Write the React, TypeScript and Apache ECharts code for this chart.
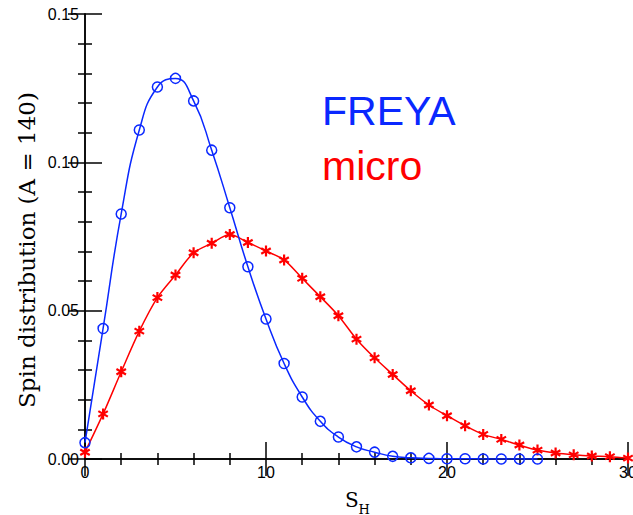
import React, { useEffect, useRef } from "react";
import * as echarts from "echarts";

const freyaS = [0, 1, 2, 3, 4, 5, 6, 7, 8, 9, 10, 11, 12, 13, 14, 15, 16, 17, 18, 19, 20, 21, 22, 23, 24, 25];
const freyaValues = [
  0.0055, 0.044, 0.0826, 0.1109, 0.1254, 0.1283, 0.1207, 0.1041, 0.0847, 0.0648,
  0.0472, 0.0322, 0.0209, 0.0127, 0.0074, 0.0041, 0.0023, 0.0009, 0.0004, 0.0002,
  0.0001, 0.0001, 0.0, 0.0, 0.0, 0.0,
];
const microS = [0, 1, 2, 3, 4, 5, 6, 7, 8, 9, 10, 11, 12, 13, 14, 15, 16, 17, 18, 19, 20, 21, 22, 23, 24, 25, 26, 27, 28, 29, 30];
const microValues = [
  0.0023, 0.0152, 0.0294, 0.0431, 0.0544, 0.062, 0.0695, 0.0727, 0.0757, 0.073,
  0.0701, 0.0671, 0.0609, 0.0547, 0.0483, 0.0404, 0.0341, 0.0285, 0.023, 0.0182,
  0.0146, 0.0112, 0.0083, 0.0066, 0.0047, 0.003, 0.002, 0.0014, 0.001, 0.0008, 0.0003,
];
const xTicks = { min: 0, max: 30, interval: 10 };
const yTicks = { min: 0, max: 0.15, interval: 0.05 };

const BLUE = "#0a28ff";
const RED = "#ff0000";

function asteriskPath(): string {
  const w = 0.2;
  const parts: string[] = [];
  [90, 30, -30].forEach((deg) => {
    const a = (deg * Math.PI) / 180;
    const ux = Math.cos(a), uy = Math.sin(a);
    const px = -uy, py = ux;
    const pts = [
      [ux + px * w, uy + py * w],
      [ux - px * w, uy - py * w],
      [-ux - px * w, -uy - py * w],
      [-ux + px * w, -uy + py * w],
    ];
    parts.push(
      "M" + pts.map((p) => (p[0] * 10 + 10).toFixed(3) + "," + (p[1] * 10 + 10).toFixed(3)).join("L") + "Z"
    );
  });
  return "path://" + parts.join("");
}

export default function App() {
  const ref = useRef<HTMLDivElement>(null);
  useEffect(() => {
    if (!ref.current) return;
    const chart = echarts.init(ref.current, null, { renderer: "svg" });
    const axisLine = () => ({ show: true, lineStyle: { color: "#000", width: 1.5 } });
    const tickMajor = () => ({ show: true, inside: true, length: 17, lineStyle: { color: "#000", width: 1.5 } });
    const tickMinorX = () => ({ show: true, splitNumber: 5, length: 6, lineStyle: { color: "#000", width: 1.5 } });
    const tickMinorY = () => ({ show: true, splitNumber: 5, length: 7, lineStyle: { color: "#000", width: 1.5 } });
    const labelFont = { fontFamily: "Liberation Sans", fontSize: 16, color: "#000" };
    chart.setOption({
      animation: false,
      backgroundColor: "#fff",
      grid: {
        left: 85,
        right: 5,
        top: 14,
        bottom: 56,
        containLabel: false,
        outerBoundsMode: "none",
      },
      xAxis: [
        {
          type: "value",
          position: "bottom",
          ...xTicks,
          axisLine: axisLine(),
          axisTick: tickMajor(),
          minorTick: tickMinorX(),
          splitLine: { show: false },
          axisLabel: { ...labelFont, margin: 5 },
        },
        {
          type: "value",
          position: "top",
          ...xTicks,
          axisLine: axisLine(),
          axisTick: tickMajor(),
          minorTick: tickMinorX(),
          splitLine: { show: false },
          axisLabel: { show: false },
        },
      ],
      yAxis: [
        {
          type: "value",
          position: "left",
          ...yTicks,
          axisLine: axisLine(),
          axisTick: tickMajor(),
          minorTick: tickMinorY(),
          splitLine: { show: false },
          axisLabel: { ...labelFont, margin: 6, formatter: (v: number) => v.toFixed(2) },
        },
        {
          type: "value",
          position: "right",
          ...yTicks,
          axisLine: axisLine(),
          axisTick: tickMajor(),
          minorTick: tickMinorY(),
          splitLine: { show: false },
          axisLabel: { show: false },
        },
      ],
      series: [
        {
          name: "FREYA",
          type: "line",
          data: freyaS.map((s, i) => [s, freyaValues[i]]),
          smooth: 0.5,
          symbol: "circle",
          symbolSize: 10,
          showAllSymbol: true,
          lineStyle: { color: BLUE, width: 1.5 },
          itemStyle: { color: "rgba(0,0,0,0)", borderColor: BLUE, borderWidth: 1.5 },
          z: 3,
        },
        {
          name: "micro",
          type: "line",
          data: microS.map((s, i) => [s, microValues[i]]),
          smooth: 0.3,
          symbol: asteriskPath(),
          symbolSize: 11,
          symbolKeepAspect: true,
          showAllSymbol: true,
          lineStyle: { color: RED, width: 1.5 },
          itemStyle: { color: RED, borderWidth: 0 },
          z: 2,
        },
      ],
      graphic: [
        {
          type: "text",
          x: 322,
          y: 110.8,
          style: {
            text: "FREYA",
            fill: BLUE,
            fontFamily: "Liberation Sans",
            fontSize: 41,
            verticalAlign: "middle",
          },
          z: 10,
        },
        {
          type: "text",
          x: 322,
          y: 165.8,
          style: {
            text: "micro",
            fill: RED,
            fontFamily: "Liberation Sans",
            fontSize: 41,
            verticalAlign: "middle",
          },
          z: 10,
        },
        {
          type: "text",
          x: 27,
          y: 250,
          rotation: Math.PI / 2,
          style: {
            text: "Spin distribution (A = 140)",
            fill: "#000",
            fontFamily: "DejaVu Serif",
            fontSize: 23,
            align: "center",
            verticalAlign: "middle",
          },
        },
        {
          type: "text",
          x: 345,
          y: 500,
          style: {
            text: "S",
            fill: "#000",
            fontFamily: "DejaVu Serif",
            fontSize: 20,
            align: "left",
            verticalAlign: "middle",
          },
        },
        {
          type: "text",
          x: 358.5,
          y: 509,
          style: {
            text: "H",
            fill: "#000",
            fontFamily: "DejaVu Serif",
            fontSize: 13,
            align: "left",
            verticalAlign: "middle",
          },
        },
      ],
    });
    return () => chart.dispose();
  }, []);
  return (
    <div
      ref={ref}
      style={{ position: "fixed", left: 0, top: 0, width: 633, height: 515, background: "#fff" }}
    />
  );
}
